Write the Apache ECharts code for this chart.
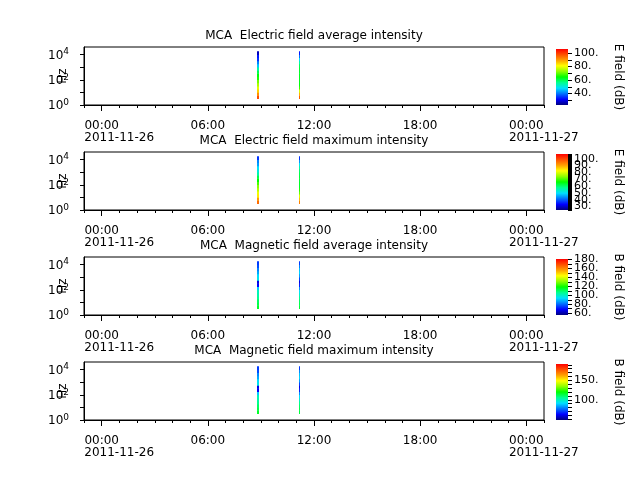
<!DOCTYPE html>
<html>
<head>
<meta charset="utf-8">
<script src="https://cdn.jsdelivr.net/npm/echarts@6/dist/echarts.min.js"></script>
<style>
html, body { margin: 0; background: #fff; }
#main { width: 640px; height: 480px; }
</style>
</head>
<body>
<div id="main"></div>
<script>
var FONT = 'DejaVu Sans';

var titles = [
    'MCA  Electric field average intensity',
    'MCA  Electric field maximum intensity',
    'MCA  Magnetic field average intensity',
    'MCA  Magnetic field maximum intensity'
];
var cbNames = ['E field (dB)', 'E field (dB)', 'B field (dB)', 'B field (dB)'];

// MCA channel frequencies (Hz)
var freqs = [3.16, 5.62, 10, 17.8, 31.6, 56.2, 100, 178, 316, 562, 1000, 1780, 3160, 5620, 10000, 17800];

// two sweeps, hours after 2011-11-26 00:00
var sweepStart = [8.76, 11.17];
var sweepEnd = [8.91, 11.23];

// dB per channel cell, low frequency -> high frequency
var eAvgA = [98, 91, 85, 79, 75, 71, 66, 64, 60, 55, 46, 41, 35, 33, 27];
var eAvgB = [96, 88, 78, 68, 64, 63, 63, 63, 62, 62, 60, 55, 48, 40, 33];
var eMaxA = [96, 91, 84, 81, 77, 74, 70, 66, 62, 56, 52, 50, 45, 43, 37];
var eMaxB = [94, 88, 80, 72, 68, 64, 64, 63, 63, 62, 60, 56, 51, 44, 37];
var bAvgA = [115, 112, 110, 106, 103, 101, 91, 69, 66, 96, 93, 87, 83, 77, 75];
var bAvgB = [114, 112, 110, 106, 100, 94, 85, 72, 66, 76, 86, 92, 90, 83, 75];
var bMaxA = [116, 113, 110, 106, 103, 100, 88, 62, 60, 94, 91, 84, 80, 72, 70];
var bMaxB = [114, 113, 110, 106, 98, 91, 81, 67, 60, 71, 83, 90, 87, 80, 70];

var panels = [[eAvgA, eAvgB], [eMaxA, eMaxB], [bAvgA, bAvgB], [bMaxA, bMaxB]];

var cbMin = [23, 25, 56, 48];
var cbMax = [106, 107, 181, 192];
var cbTicks = [
    [30, 40, 50, 60, 70, 80, 90, 100],
    [],
    [60, 70, 80, 90, 100, 110, 120, 130, 140, 150, 160, 170, 180],
    [50, 60, 70, 80, 90, 100, 110, 120, 130, 140, 150, 160, 170, 180, 190]
];
for (var v = 25; v <= 107; v++) cbTicks[1].push(v);
var cbLabels = [
    [40, 60, 80, 100],
    [30, 40, 50, 60, 70, 80, 90, 100],
    [60, 80, 100, 120, 140, 160, 180],
    [100, 150]
];

var hourTicks = [];
for (var h = -1; h <= 25; h++) hourTicks.push(h);
var majorTicks = [0, 6, 12, 18, 24];
var hzTicks = [1, 10, 100, 1000, 10000];
var hzLabels = [1, 100, 10000];

var palette = ['#00007f', '#0000ff', '#0070ff', '#00e0ff', '#00ff90', '#00ff00',
    '#90ff00', '#ffff00', '#ffa000', '#ff5000', '#ff0000'];

var chart = echarts.init(document.getElementById('main'));

function pad(n) { return (n < 10 ? '0' : '') + n; }

function timeLabel(val) {
    var hh = ((val % 24) + 24) % 24;
    var t = pad(hh) + ':00';
    if (hh === 0) {
        var day = 26 + Math.floor(val / 24);
        return '{s|}{t|' + t + '}{s|}\n{s|}{t|2011-11-' + day + '}';
    }
    return '{t|' + t + '}';
}

function hzLabel(val) {
    var e = Math.round(Math.log(val) / Math.LN10);
    return '{b|10}{s|' + e + '}';
}

function renderCell(params, api) {
    var p0 = api.coord([api.value(0), api.value(3)]);
    var p1 = api.coord([api.value(1), api.value(2)]);
    var x0 = Math.round(p0[0]);
    var x1 = Math.max(x0 + 1, Math.round(p1[0]));
    return {
        type: 'rect',
        shape: { x: x0, y: p0[1] - 0.3, width: x1 - x0, height: p1[1] - p0[1] + 0.6 },
        style: { fill: api.visual('color') }
    };
}

function renderBar(params, api) {
    var p0 = api.coord([api.value(0), api.value(3)]);
    var p1 = api.coord([api.value(1), api.value(2)]);
    var stops = palette.map(function (c, j) { return { offset: j / (palette.length - 1), color: c }; });
    return {
        type: 'rect',
        shape: { x: p0[0], y: p0[1], width: p1[0] - p0[0], height: p1[1] - p0[1] },
        style: { fill: new echarts.graphic.LinearGradient(0, 1, 0, 0, stops) }
    };
}

var grid = [], xAxis = [], yAxis = [], series = [], visualMap = [], title = [];

panels.forEach(function (p, i) {
    var top = 47 + 105 * i;
    grid.push({ left: 84, right: 96, top: top, height: 58, show: true, borderColor: '#000', borderWidth: 1 });
    title.push({
        text: titles[i], left: 314, top: 30 + 105 * i, textAlign: 'center', padding: 0,
        textStyle: { fontSize: 12, fontWeight: 'normal', color: '#000', fontFamily: FONT }
    });
    // hourly ticks
    xAxis.push({
        type: 'value', gridIndex: i, position: 'bottom', min: -1, max: 25,
        axisLine: { onZero: false, lineStyle: { color: '#000' } },
        axisTick: { customValues: hourTicks, length: 3, inside: false, lineStyle: { color: '#000' } },
        axisLabel: { show: false }, splitLine: { show: false }
    });
    // major ticks + labels
    xAxis.push({
        type: 'value', gridIndex: i, position: 'bottom', min: -1, max: 25,
        axisLine: { show: false, onZero: false },
        axisTick: { customValues: majorTicks, length: 6, inside: false, lineStyle: { color: '#000' } },
        axisLabel: {
            customValues: majorTicks, margin: 15, formatter: timeLabel,
            rich: {
                t: { fontSize: 12, fontFamily: FONT, color: '#000', lineHeight: 12 },
                s: { width: 35, lineHeight: 12 }
            }
        },
        splitLine: { show: false }
    });
    yAxis.push({
        type: 'log', logBase: 10, gridIndex: i, min: 1, max: 40000,
        name: 'Hz', nameLocation: 'middle', nameRotate: 90, nameGap: 15, nameMoveOverlap: false,
        nameTextStyle: { fontSize: 12, fontFamily: FONT, color: '#000' },
        axisLine: { show: true, onZero: false, lineStyle: { color: '#000' } },
        axisTick: { customValues: hzTicks, length: 4, inside: false, lineStyle: { color: '#000' } },
        minorTick: { show: false },
        axisLabel: {
            customValues: hzLabels, margin: 15, formatter: hzLabel,
            rich: {
                b: { fontSize: 12, fontFamily: FONT, color: '#000', lineHeight: 14, padding: [2, 0, 0, 0] },
                s: { fontSize: 9, fontFamily: FONT, color: '#000', lineHeight: 9, verticalAlign: 'top' }
            }
        },
        splitLine: { show: false }
    });
    var data = [];
    p.forEach(function (vals, k) {
        for (var j = 0; j < vals.length; j++) {
            data.push([sweepStart[k], sweepEnd[k], freqs[j], freqs[j + 1], vals[j]]);
        }
    });
    series.push({
        type: 'custom', xAxisIndex: 2 * i, yAxisIndex: i, renderItem: renderCell,
        encode: { x: [0, 1], y: [2, 3] }, data: data, silent: true
    });
    visualMap.push({
        type: 'continuous', show: false, seriesIndex: i, dimension: 4,
        min: cbMin[i], max: cbMax[i], inRange: { color: palette }
    });
});

// colorbars: ticks + every other label on one axis, remaining labels on an overlaid axis
var cbLabelStyle = { margin: 6, fontSize: 11, fontFamily: FONT, color: '#000',
    showMinLabel: true, showMaxLabel: true, hideOverlap: false,
    formatter: function (v) { return v + '.'; } };

panels.forEach(function (p, i) {
    grid.push({ left: 556, width: 12, top: 49 + 105 * i, height: 56 });
    xAxis.push({ type: 'value', gridIndex: 4 + i, min: 0, max: 1, show: false });
    var evenLabels = cbLabels[i].filter(function (v, j) { return j % 2 === 0; });
    var oddLabels = cbLabels[i].filter(function (v, j) { return j % 2 === 1; });
    yAxis.push({
        type: 'value', gridIndex: 4 + i, position: 'right', min: cbMin[i], max: cbMax[i],
        name: cbNames[i], nameLocation: 'middle', nameRotate: -90, nameGap: 44,
        nameTextStyle: { fontSize: 12, fontFamily: FONT, color: '#000' },
        axisLine: { show: true, onZero: false, lineStyle: { color: '#000', opacity: 0 } },
        axisTick: { show: true, customValues: cbTicks[i], length: 4, lineStyle: { color: '#000' } },
        axisLabel: Object.assign({ customValues: evenLabels }, cbLabelStyle),
        splitLine: { show: false }
    });
    series.push({
        type: 'custom', xAxisIndex: 8 + i, yAxisIndex: 4 + i, renderItem: renderBar,
        encode: { x: [0, 1], y: [2, 3] }, data: [[0, 1, cbMin[i], cbMax[i]]], silent: true
    });
});

panels.forEach(function (p, i) {
    var oddLabels = cbLabels[i].filter(function (v, j) { return j % 2 === 1; });
    yAxis.push({
        type: 'value', gridIndex: 4 + i, position: 'right', offset: 0, min: cbMin[i], max: cbMax[i],
        show: oddLabels.length > 0,
        axisLine: { show: false, onZero: false },
        axisTick: { show: false },
        axisLabel: Object.assign({ customValues: oddLabels.length ? oddLabels : [cbMin[i]] }, cbLabelStyle),
        splitLine: { show: false }
    });
});

chart.setOption({
    animation: false,
    backgroundColor: '#fff',
    title: title,
    grid: grid,
    xAxis: xAxis,
    yAxis: yAxis,
    visualMap: visualMap,
    series: series
});
</script>
</body>
</html>
